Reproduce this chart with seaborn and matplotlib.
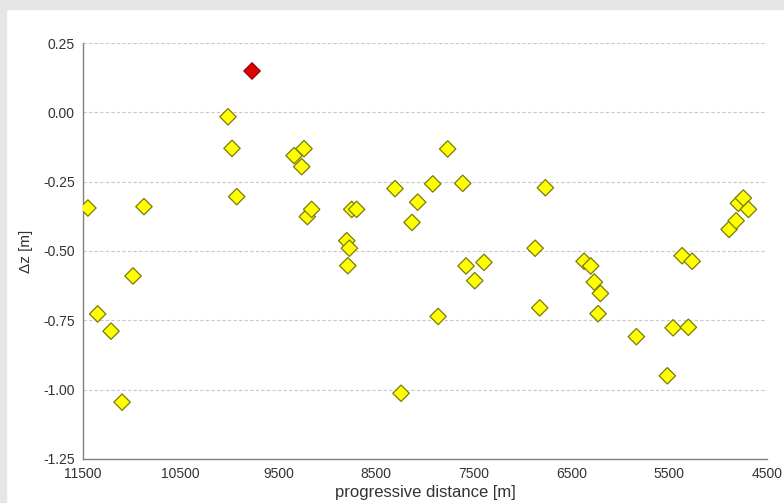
import numpy as np
import pandas as pd
import matplotlib
matplotlib.use("Agg")
import matplotlib.pyplot as plt
import seaborn as sns

# progressive distance [m] and delta z [m]
distance = [11450, 11350, 11213, 11100, 10988, 10876,
            10016, 9975, 9927, 9340, 9238, 9262, 9204, 9160,
            8801, 8774, 8790, 8750, 8700, 8307, 8245,
            8133, 8075, 7921, 7866, 7768, 7614, 7580, 7491, 7396,
            6873, 6826, 6768, 6372, 6304, 6267, 6205, 6229,
            5837, 5520, 5461, 5369, 5305, 5266,
            4888, 4816, 4793, 4742, 4690,
            9770]
dz = [-0.345, -0.727, -0.789, -1.045, -0.590, -0.340,
      -0.016, -0.130, -0.304, -0.156, -0.131, -0.196, -0.376, -0.350,
      -0.463, -0.490, -0.553, -0.350, -0.350, -0.275, -1.013,
      -0.397, -0.324, -0.258, -0.736, -0.132, -0.256, -0.554, -0.607, -0.541,
      -0.490, -0.705, -0.272, -0.537, -0.554, -0.612, -0.653, -0.726,
      -0.809, -0.950, -0.777, -0.517, -0.775, -0.537,
      -0.422, -0.391, -0.328, -0.309, -0.350,
      0.149]
flag = ["ok"] * (len(dz) - 1) + ["outlier"]

x_ticks = [11500, 10500, 9500, 8500, 7500, 6500, 5500, 4500]
y_ticks = [-1.25, -1.00, -0.75, -0.50, -0.25, 0.00, 0.25]

df = pd.DataFrame({"distance": distance, "dz": dz, "flag": flag})

sns.set_style("white")
plt.rcParams["font.family"] = ["Liberation Sans", "DejaVu Sans"]

fig = plt.figure(figsize=(7.84, 5.03), dpi=100, facecolor="white")
# grey frame on top and left like the reference screenshot
fig.patches.append(plt.Rectangle((0, 1 - 9 / 503), 1, 9 / 503, transform=fig.transFigure,
                                 color="#e6e6e6", zorder=-1))
fig.patches.append(plt.Rectangle((0, 0), 6 / 784, 1, transform=fig.transFigure,
                                 color="#e6e6e6", zorder=-1))

ax = fig.add_axes([83 / 784, 1 - 459 / 503, (767 - 83) / 784, (459 - 43) / 503])

sns.scatterplot(data=df, x="distance", y="dz", hue="flag",
                palette={"ok": "#ffff00", "outlier": "#e00000"},
                marker="D", s=70, edgecolor="#7a7a10", linewidth=0.9,
                legend=False, ax=ax, zorder=3)
# darker edge on the red one
ax.collections[0].set_edgecolors(["#7a7a10" if f == "ok" else "#900000" for f in flag])

ax.set_xlim(11500, 4500)
ax.set_ylim(-1.25, 0.25)
ax.set_xticks(x_ticks)
ax.set_yticks(y_ticks)
ax.set_xticklabels([str(t) for t in x_ticks])
ax.set_yticklabels([f"{t:.2f}" for t in y_ticks])

for y in y_ticks[1:]:
    ax.axhline(y, color="#c8c8c8", linestyle=(0, (3, 2)), linewidth=0.8, zorder=1)

for s in ["top", "right"]:
    ax.spines[s].set_visible(False)
for s in ["left", "bottom"]:
    ax.spines[s].set_color("#808080")
    ax.spines[s].set_linewidth(1.0)

ax.tick_params(axis="both", direction="out", length=4, width=0.8, color="#808080",
               labelsize=10, labelcolor="#333333", pad=2)
ax.set_xlabel("progressive distance [m]", fontsize=12, color="#333333", labelpad=3)
ax.set_ylabel("Δz [m]", fontsize=11, color="#333333", labelpad=7)

fig.savefig("out.png", dpi=100, facecolor=fig.get_facecolor())
